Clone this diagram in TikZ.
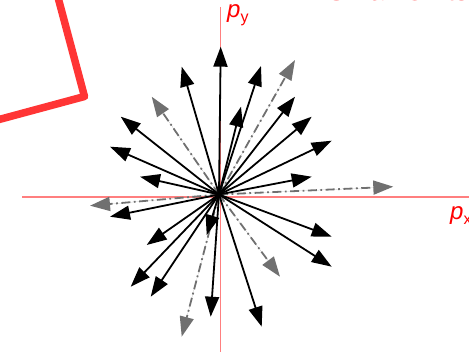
\documentclass[tikz,border=0pt]{standalone}
\usepackage{fontspec}
\setmainfont{Liberation Sans}
\usetikzlibrary{arrows.meta}
\definecolor{axisred}{HTML}{FF7F7F}
\definecolor{boxred}{HTML}{FF3535}
\definecolor{ghostgray}{HTML}{707070}

\begin{document}
\begin{tikzpicture}[x=1pt,y=-1pt,
  axis/.style={draw=axisred,line width=1.3pt},
  mom/.style={line width=1.8pt,-{Triangle[length=20pt,width=14pt]}},
  ghost/.style={mom,draw=ghostgray,fill=ghostgray,
    dash pattern=on 9pt off 3.5pt on 1.8pt off 3.5pt},
  lbl/.style={text=red,inner sep=0pt,anchor=base west},
]
  \useasboundingbox (0,0) rectangle (469,352);
  % red frame cut by the page
  \draw[boxred,line width=7.5pt,line join=round] (55.5,-12) -- (84.5,96.5) -- (-12,122.5);
  \node[lbl,font=\fontsize{28}{30}\selectfont] (title) at (327,1) {Small Units};
  % axes
  \coordinate (xl) at (22,197);
  \coordinate (xr) at (469,197);
  \coordinate (yt) at (220.7,7);
  \coordinate (yb) at (220.7,352);
  \draw[axis] (xl) -- (xr);
  \draw[axis] (yt) -- (yb);
  \node[lbl,font=\fontsize{24}{26}\selectfont] (py) at (227,18) {\textit{p}\raisebox{-5pt}{\fontsize{16}{18}\selectfont y}};
  \node[lbl,font=\fontsize{24}{26}\selectfont] (px) at (450,220) {\textit{p}\raisebox{-5pt}{\fontsize{16}{18}\selectfont x}};
  % momenta
  \coordinate (O) at (219,194.5);
  \foreach \n/\x/\y in {a/295/60, b/151.7/96.7, c/393.3/186.7,
      d/90/205.7, e/280/276.7, f/181.7/336.7}
    \draw[ghost] (O) -- (\x,\y) coordinate (g\n);
  \foreach \n/\x/\y in {1/220.7/46.7, 2/181.7/66.7, 3/261/66, 4/241/106.7,
      5/295/96.7, 6/311.7/116.7, 7/331.7/140.7, 8/311.7/176.7,
      9/120.7/116.7, 10/110/146.7, 11/140/176.7, 12/110/216.7,
      13/146.7/245, 14/130.7/286.7, 15/150.7/296.7, 16/206.7/235,
      17/210.7/316.7, 18/261.7/326.7, 19/331.7/236.7, 20/331.7/266.7}
    \draw[mom] (O) -- (\x,\y) coordinate (k\n);
\end{tikzpicture}
\end{document}
